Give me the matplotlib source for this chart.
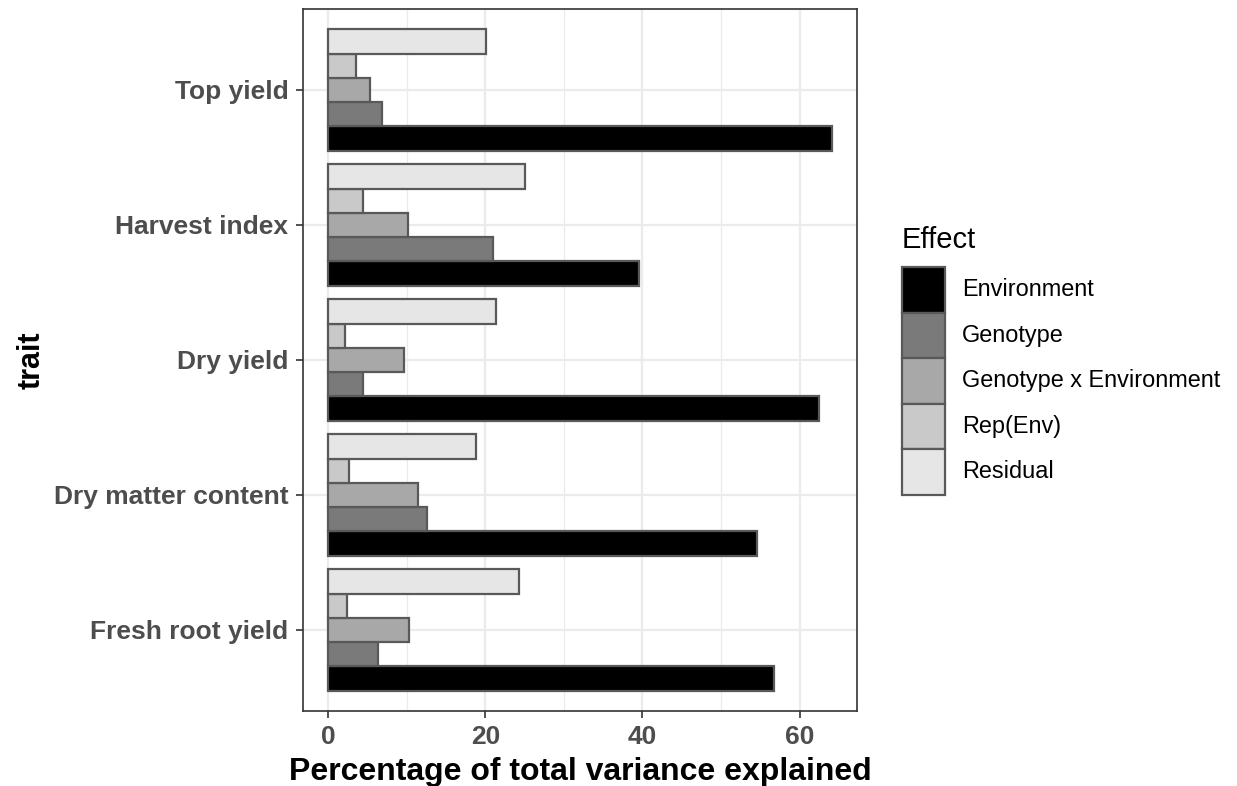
import numpy as np
import matplotlib
matplotlib.use("Agg")
import matplotlib.pyplot as plt
from matplotlib.patches import Rectangle

plt.rcParams['font.family'] = ['Liberation Sans', 'DejaVu Sans']

traits = ["Fresh root yield", "Dry matter content", "Dry yield", "Harvest index", "Top yield"]
effects = ["Environment", "Genotype", "Genotype x Environment", "Rep(Env)", "Residual"]

# percentage of variance, one list per effect, in the order of traits
environment = [56.7, 54.6, 62.5, 39.5, 64.1]
genotype = [6.4, 12.6, 4.4, 21.0, 6.9]
gxe = [10.3, 11.4, 9.7, 10.1, 5.3]
rep_env = [2.4, 2.6, 2.2, 4.4, 3.6]
residual = [24.3, 18.8, 21.4, 25.1, 20.1]

fills = ["#000000", "#7A7A7A", "#A8A8A8", "#C9C9C9", "#E6E6E6"]
edge = "#595959"
grid = "#EBEBEB"
dark = "#333333"

series = [environment, genotype, gxe, rep_env, residual]

fig = plt.figure(figsize=(12.37, 7.86), dpi=100)
ax = fig.add_axes([303/1237, 1 - 711/786, 554/1237, 702/786])

y = np.arange(1, len(traits) + 1)
h = 0.9 / len(effects)
for j, vals in enumerate(series):
    ax.barh(y + (j - 2) * h, vals, height=h, color=fills[j],
            edgecolor=edge, linewidth=1.6, zorder=3)

ax.set_xlim(-3.2, 67.3)
ax.set_ylim(0.4, 5.6)
ax.set_xticks([0, 20, 40, 60])
ax.set_xticks([10, 30, 50], minor=True)
ax.set_yticks(y)
ax.set_yticklabels(traits)
ax.grid(which='major', color=grid, linewidth=1.6, zorder=0)
ax.grid(which='minor', axis='x', color=grid, linewidth=0.9, zorder=0)
ax.tick_params(axis='both', which='major', length=5, width=1.2, color=dark,
               labelsize=19, labelcolor="#4D4D4D")
ax.tick_params(axis='y', pad=5.5)
ax.tick_params(axis='x', pad=5)
ax.tick_params(which='minor', length=0)
for lab in ax.get_xticklabels() + ax.get_yticklabels():
    lab.set_fontweight('bold')
for s in ax.spines.values():
    s.set_color(dark)
    s.set_linewidth(1.2)

ax.set_xlabel("Percentage of total variance explained", fontsize=23,
              fontweight='bold', labelpad=6)
ax.set_ylabel("trait", fontsize=22, fontweight='bold', labelpad=5)

# legend drawn by hand, ggplot style
fig.text(902/1237, 1 - 240/786, "Effect", fontsize=21, va='center', ha='left')
kx, kw, kh = 902, 43, 45.5
top = 267
for j, name in enumerate(effects):
    y0 = top + j * kh
    fig.patches.append(Rectangle((kx/1237, 1 - (y0 + kh)/786), kw/1237, kh/786,
                                 transform=fig.transFigure, facecolor=fills[j],
                                 edgecolor=edge, linewidth=1.6))
    fig.text(962/1237, 1 - (y0 + kh/2)/786, name, fontsize=16.9,
             va='center', ha='left')

fig.savefig("out.png", dpi=100)
